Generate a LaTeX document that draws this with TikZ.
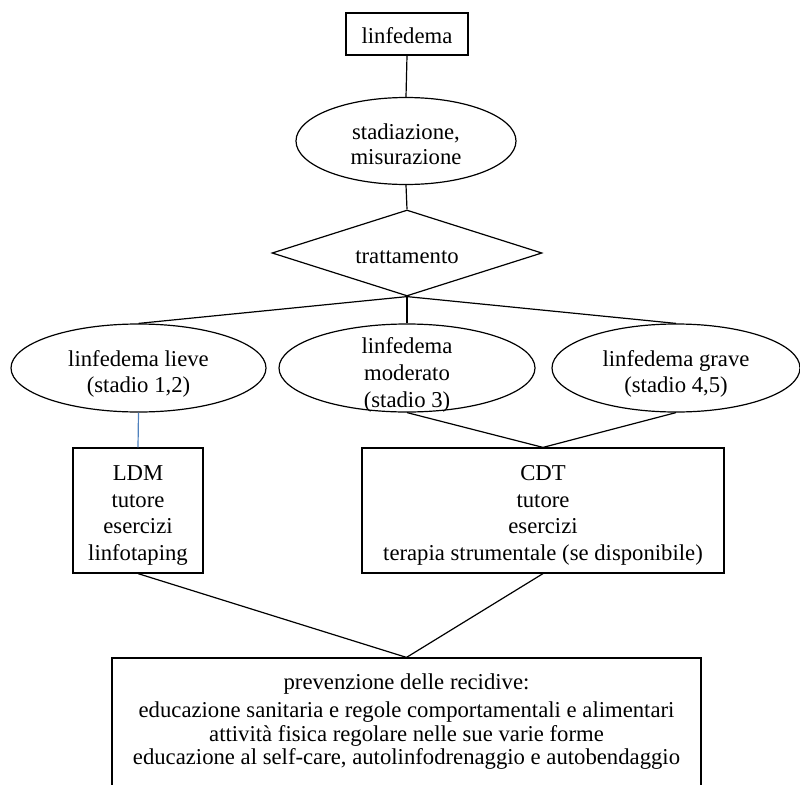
\documentclass[tikz,border=0pt]{standalone}
\usepackage{fontspec}
\setmainfont{Liberation Serif}
\usetikzlibrary{shapes.geometric}
\definecolor{linkblue}{RGB}{79,129,189}
\begin{document}
\begin{tikzpicture}[x=1pt,y=-1pt,
  every node/.style={font=\fontsize{22.7}{26.7}\selectfont},
  box/.style={draw,line width=1.2pt,rectangle,inner sep=0pt,align=center},
  oval/.style={draw,line width=1.2pt,ellipse,inner sep=0pt},
  dia/.style={draw,line width=1.2pt,diamond,inner sep=0pt},
  txt/.style={align=center,inner sep=0pt},
  conn/.style={line width=1.2pt},
  blueconn/.style={line width=1.2pt,draw=linkblue}]
\useasboundingbox (0,0) rectangle (800,784);

\node[box,minimum width=122pt,minimum height=42pt] (top) at (407,34) {};
\node[txt] (ttop) at (407,36) {linfedema};

\node[oval,minimum width=220pt,minimum height=87pt] (stad) at (406,141) {};
\node[txt,font=\fontsize{22.7}{25}\selectfont] (tstad) at (406,144) {stadiazione,\\misurazione};

\node[dia,minimum width=270pt,minimum height=86pt] (tratt) at (407,253) {};
\node[txt] (ttratt) at (407,257) {trattamento};

\node[oval,minimum width=255pt,minimum height=88pt] (lieve) at (138.5,368) {};
\node[txt] (tlieve) at (138.5,374) {linfedema lieve\\(stadio 1,2)};

\node[oval,minimum width=256pt,minimum height=88pt] (mod) at (407,368) {};
\node[txt] (tmod) at (407,375) {linfedema\\moderato\\(stadio 3)};

\node[oval,minimum width=248pt,minimum height=88pt] (grave) at (676,368) {};
\node[txt] (tgrave) at (676,374) {linfedema grave\\(stadio 4,5)};

\node[box,minimum width=130pt,minimum height=125pt] (ldm) at (138,510.5) {};
\node[txt] (tldm) at (138,515.5) {LDM\\tutore\\esercizi\\linfotaping};

\node[box,minimum width=362pt,minimum height=125pt] (cdt) at (543,510.5) {};
\node[txt] (tcdt) at (543,515.5) {CDT\\tutore\\esercizi\\terapia strumentale (se disponibile)};

\node[box,minimum width=589pt,minimum height=152pt] (prev) at (406.5,734) {};
\node[txt,font=\fontsize{22.7}{23.5}\selectfont] (tprev) at (406.5,722)
  {prevenzione delle recidive:\\[4.5pt]
   educazione sanitaria e regole comportamentali e alimentari\\
   attività fisica regolare nelle sue varie forme\\
   educazione al self-care, autolinfodrenaggio e autobendaggio};

\draw[conn] (top.south) -- (stad.north);
\draw[conn] (stad.south) -- (tratt.north);
\draw[conn] (tratt.south) -- (lieve.north);
\draw[conn] (tratt.south) -- (mod.north);
\draw[conn] (tratt.south) -- (grave.north);
\draw[blueconn] (lieve.south) -- (ldm.north);
\draw[conn] (mod.south) -- (cdt.north);
\draw[conn] (grave.south) -- (cdt.north);
\draw[conn] (ldm.south) -- (prev.north);
\draw[conn] (cdt.south) -- (prev.north);
\end{tikzpicture}
\end{document}
